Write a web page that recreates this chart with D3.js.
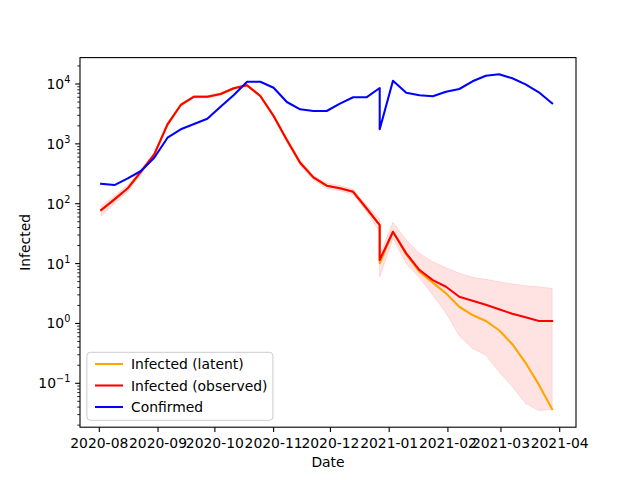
<!DOCTYPE html>
<html>
<head>
<meta charset="utf-8">
<script src="https://cdn.jsdelivr.net/npm/d3@7"></script>
<style>
  body { margin: 0; background: #fff; }
  svg { font-family: "DejaVu Sans", sans-serif; }
</style>
</head>
<body>
<svg id="chart" width="640" height="480"></svg>
<script>
// weekly dates, with a second reading on 2020-12-27
var dates = ["2020-08-02","2020-08-09","2020-08-16","2020-08-23","2020-08-30","2020-09-06","2020-09-13",
  "2020-09-20","2020-09-27","2020-10-04","2020-10-11","2020-10-18","2020-10-25","2020-11-01","2020-11-08",
  "2020-11-15","2020-11-22","2020-11-29","2020-12-06","2020-12-13","2020-12-20","2020-12-27","2020-12-27",
  "2021-01-03","2021-01-10","2021-01-17","2021-01-24","2021-01-31","2021-02-07","2021-02-14","2021-02-21",
  "2021-02-28","2021-03-07","2021-03-14","2021-03-21","2021-03-28"];

var confirmed = [216,205,265,352,587,1267,1750,2146,2635,4175,6550,10900,10900,8670,5000,3775,3540,3540,4700,6000,6000,
  8570,1750,11350,7160,6470,6230,7440,8250,11100,13770,14520,12450,9870,7260,4750];

var observed = [78.5,118,181,343,668,2120,4460,6140,6140,6810,8470,9500,6300,2920,1160,484,276,200,181,158,84,
  44,11.5,34,14.8,7.8,5.3,4.1,2.79,2.39,2.05,1.72,1.45,1.27,1.1,1.1];

var latent = [78.5,118,181,343,668,2120,4460,6140,6140,6810,8470,9500,6300,2920,1160,484,276,200,181,158,84,
  44,10.1,34,14.2,7.3,4.8,3.18,1.9,1.38,1.1,0.77,0.45,0.22,0.095,0.037];

var observedUpper = [92,136,205,380,720,2250,4700,6400,6400,7100,8800,9900,6600,3100,1250,530,300,220,200,175,95,
  55,14,49,24.8,14.8,10.7,8.5,6.9,5.9,5.45,4.98,4.55,4.27,4.1,3.85];

var observedLower = [62,100,160,310,620,1950,4200,5850,5850,6500,8100,9100,6000,2750,1070,440,250,180,165,142,74,
  34,6,26,10,5.8,3.0,1.5,0.62,0.383,0.296,0.156,0.088,0.046,0.035,0.037];

var legendLabels = ["Infected (latent)", "Infected (observed)", "Confirmed"];
var legendColors = ["orange", "red", "blue"];

var svg = d3.select("#chart"),
    frame = { left: 80, right: 576, top: 57.6, bottom: 427.2 },
    fontSize = 13.9;

var parse = d3.utcParse("%Y-%m-%d");
var rows = dates.map(function(d, i) {
  return { date: parse(d), confirmed: confirmed[i], observed: observed[i], latent: latent[i],
           hi: observedUpper[i], lo: observedLower[i] };
});

// calibrate the time axis from two month ticks, then stretch to the frame
var x = d3.scaleUtc()
  .domain([parse("2020-08-01"), parse("2021-04-01")])
  .range([99.3, 559.7]);
x.domain([x.invert(frame.left), x.invert(frame.right)]).range([frame.left, frame.right]);

var y = d3.scaleLog()
  .domain([0.1, 10000])
  .range([383.3, 84]);
y.domain([y.invert(frame.bottom), y.invert(frame.top)]).range([frame.bottom, frame.top]);

// band
var area = d3.area()
  .x(function(d) { return x(d.date); })
  .y0(function(d) { return y(d.lo); })
  .y1(function(d) { return y(d.hi); });

svg.append("path")
  .datum(rows)
  .attr("d", area)
  .attr("fill", "rgba(255,0,0,0.11)")
  .attr("stroke", "rgba(255,0,0,0.11)")
  .attr("stroke-width", 1);

function drawLine(key, color) {
  var line = d3.line()
    .x(function(d) { return x(d.date); })
    .y(function(d) { return y(d[key]); });
  svg.append("path")
    .datum(rows)
    .attr("d", line)
    .attr("fill", "none")
    .attr("stroke", color)
    .attr("stroke-width", 2.08)
    .attr("stroke-linejoin", "round")
    .attr("stroke-linecap", "square");
}

drawLine("latent", "orange");
drawLine("observed", "red");
drawLine("confirmed", "blue");

// x axis
var months = d3.utcMonth.range(parse("2020-08-01"), parse("2021-04-02"));
var xg = svg.append("g");
xg.selectAll("line").data(months).join("line")
  .attr("x1", function(d) { return x(d); }).attr("x2", function(d) { return x(d); })
  .attr("y1", frame.bottom).attr("y2", frame.bottom + 4.86)
  .attr("stroke", "#000").attr("stroke-width", 1.1);
xg.selectAll("text").data(months).join("text")
  .attr("x", function(d) { return x(d); })
  .attr("y", frame.bottom + 21)
  .attr("text-anchor", "middle")
  .attr("font-size", fontSize)
  .attr("fill", "#000")
  .text(d3.utcFormat("%Y-%m"));

// y axis
var yg = svg.append("g");
var minor = [];
for (var e = -2; e <= 4; e++) {
  for (var m = 2; m <= 9; m++) {
    var v = m * Math.pow(10, e);
    if (y(v) <= frame.bottom && y(v) >= frame.top) minor.push(v);
  }
}
yg.selectAll("line.minor").data(minor).join("line")
  .attr("class", "minor")
  .attr("x1", frame.left - 2.78).attr("x2", frame.left)
  .attr("y1", function(d) { return y(d); }).attr("y2", function(d) { return y(d); })
  .attr("stroke", "#000").attr("stroke-width", 0.83);

var majors = [-1, 0, 1, 2, 3, 4];
yg.selectAll("line.major").data(majors).join("line")
  .attr("class", "major")
  .attr("x1", frame.left - 4.86).attr("x2", frame.left)
  .attr("y1", function(d) { return y(Math.pow(10, d)); }).attr("y2", function(d) { return y(Math.pow(10, d)); })
  .attr("stroke", "#000").attr("stroke-width", 1.1);

var labels = yg.selectAll("text").data(majors).join("text")
  .attr("x", frame.left - 9.7)
  .attr("y", function(d) { return y(Math.pow(10, d)) + 5; })
  .attr("text-anchor", "end")
  .attr("font-size", fontSize)
  .attr("fill", "#000");
labels.append("tspan").text("10");
labels.append("tspan")
  .attr("dy", -6)
  .attr("font-size", 9.7)
  .text(function(d) { return d < 0 ? "\u2212" + (-d) : d; });

// frame
svg.append("rect")
  .attr("x", frame.left).attr("y", frame.top)
  .attr("width", frame.right - frame.left).attr("height", frame.bottom - frame.top)
  .attr("fill", "none").attr("stroke", "#000").attr("stroke-width", 1.1);

// axis titles
svg.append("text")
  .attr("x", (frame.left + frame.right) / 2).attr("y", 467)
  .attr("text-anchor", "middle").attr("font-size", fontSize)
  .text("Date");
svg.append("text")
  .attr("transform", "translate(30," + ((frame.top + frame.bottom) / 2) + ") rotate(-90)")
  .attr("text-anchor", "middle").attr("font-size", fontSize)
  .text("Infected");

// legend
var lg = svg.append("g");
lg.append("rect")
  .attr("x", 86.9).attr("y", 352.3)
  .attr("width", 186).attr("height", 68)
  .attr("rx", 3.5)
  .attr("fill", "rgba(255,255,255,0.8)")
  .attr("stroke", "#cccccc").attr("stroke-width", 1);
var items = lg.selectAll("g.item").data(legendLabels).join("g")
  .attr("class", "item")
  .attr("transform", function(d, i) { return "translate(0," + (364 + i * 21.5) + ")"; });
items.append("line")
  .attr("x1", 95).attr("x2", 123).attr("y1", 0).attr("y2", 0)
  .attr("stroke", function(d, i) { return legendColors[i]; })
  .attr("stroke-width", 2.08);
items.append("text")
  .attr("x", 131).attr("y", 5)
  .attr("font-size", fontSize)
  .text(function(d) { return d; });
</script>
</body>
</html>
